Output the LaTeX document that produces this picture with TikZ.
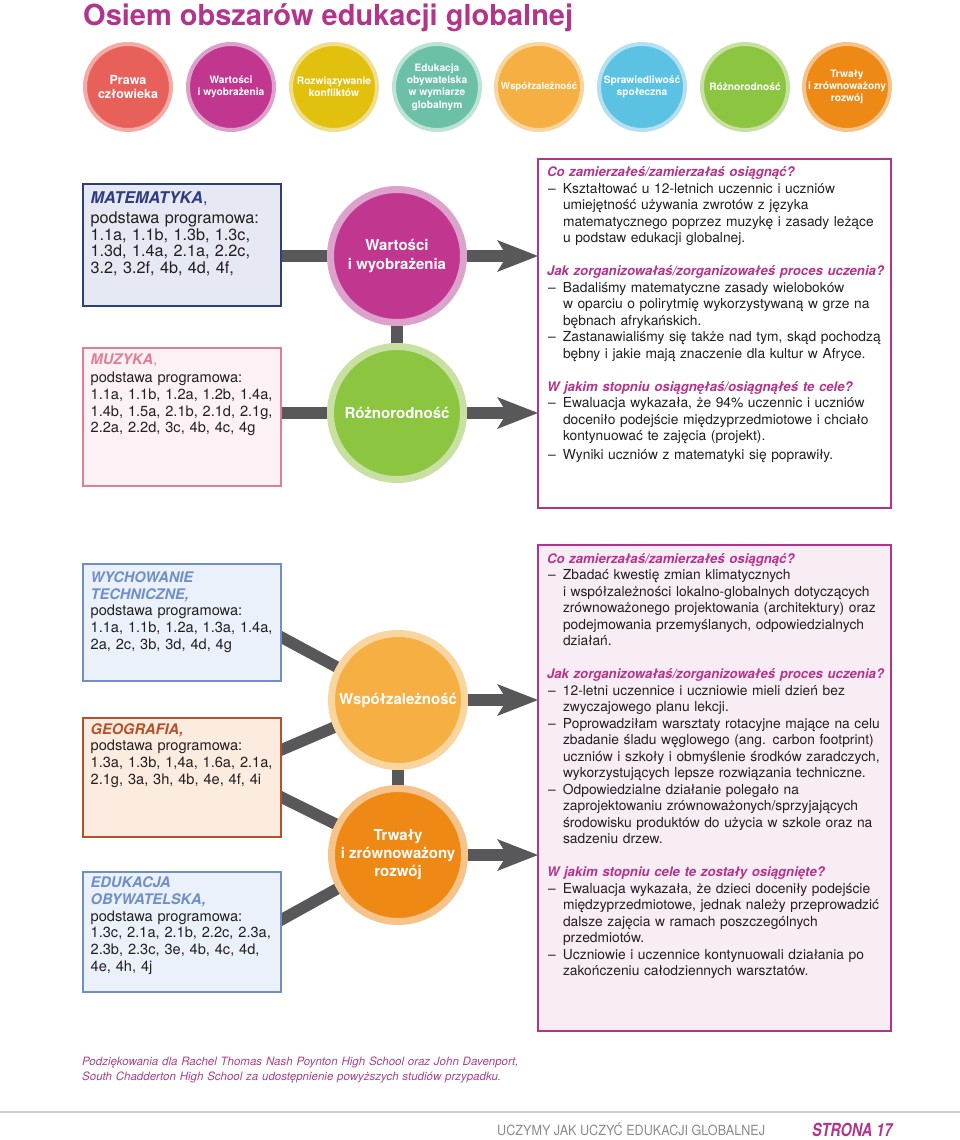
\documentclass[tikz,border=0pt]{standalone}
\usepackage{fontspec}
\setmainfont{TeX Gyre Heros}
\usetikzlibrary{arrows.meta,calc}
\pgfdeclarelayer{bg}
\pgfsetlayers{bg,main}
\definecolor{mag}{HTML}{B3358B}
\definecolor{txt}{HTML}{231F20}
\definecolor{conn}{HTML}{58585A}
\definecolor{cA}{HTML}{E8605A}\definecolor{cAr}{HTML}{F3ABA5}
\definecolor{cB}{HTML}{C1378F}\definecolor{cBr}{HTML}{DDA2CC}
\definecolor{cC}{HTML}{E2C10E}\definecolor{cCr}{HTML}{EFDF8C}
\definecolor{cD}{HTML}{6BC0A7}\definecolor{cDr}{HTML}{BDE3D6}
\definecolor{cE}{HTML}{F5AF43}\definecolor{cEr}{HTML}{F9D5A0}
\definecolor{cF}{HTML}{5CC2E4}\definecolor{cFr}{HTML}{B4E0F1}
\definecolor{cG}{HTML}{8CC540}\definecolor{cGr}{HTML}{C8E0A2}
\definecolor{cH}{HTML}{EE8915}\definecolor{cHr}{HTML}{F6C48A}
\definecolor{matb}{HTML}{2E3D7C}\definecolor{matf}{HTML}{E6E8F4}
\definecolor{muzb}{HTML}{E27D95}\definecolor{muzf}{HTML}{FCF1F4}
\definecolor{wycb}{HTML}{6F8FC6}\definecolor{wycf}{HTML}{EBF1FA}
\definecolor{geob}{HTML}{B5512A}\definecolor{geof}{HTML}{FCEBDF}
\definecolor{boxf}{HTML}{F9EDF5}
\definecolor{footc}{HTML}{A8408A}
\definecolor{grayt}{HTML}{8A8A8A}
\newcommand\itm{\par\noindent\hangindent=16pt\hangafter=1\makebox[16pt][l]{\hspace{1pt}–}}
\newcommand\hd[1]{{\color{mag}\fontsize{13.2}{16.5}\selectfont\bfseries\itshape #1}}
\begin{document}
\begin{tikzpicture}[x=1pt,y=-1pt,
  topc/.style={circle, minimum size=86pt, inner sep=0pt, outer sep=0pt, line width=4pt, text=white, font=\fontsize{10.2}{12.3}\selectfont\bfseries, align=center},
  bigc/.style={circle, minimum size=133pt, inner sep=0pt, outer sep=0pt, line width=7pt, text=white, font=\fontsize{15}{18}\selectfont\bfseries, align=center},
  bx/.style={rectangle, anchor=north west, inner sep=0pt, outer sep=0pt, line width=1.5pt},
  ltxt/.style={anchor=base west, inner sep=0pt, outer sep=0pt, text width=190pt, text=txt, font=\fontsize{14.6}{16.7}\selectfont},
  rtxt/.style={anchor=base west, inner sep=0pt, outer sep=0pt, text width=360pt, text=txt, font=\fontsize{13.8}{16.5}\selectfont},
  cn/.style={draw=conn, line width=12pt},
  arr/.style={draw=conn, line width=12pt, -{Stealth[length=41pt,width=32pt,inset=10pt,line width=0pt]}}
]
\useasboundingbox (0,0) rectangle (960,1140);

% title
\node[anchor=base west, inner sep=0pt, text=mag, font=\fontsize{29}{29}\selectfont\bfseries] (title) at (83,25.5) {Osiem obszarów edukacji globalnej};

% top circles
\node[topc, fill=cA, draw=cAr, font=\fontsize{12.5}{14}\selectfont\bfseries] (t1) at (128,87) {Prawa\\człowieka};
\node[topc, fill=cB, draw=cBr] (t2) at (231,87) {Wartości\\i wyobrażenia};
\node[topc, fill=cC, draw=cCr] (t3) at (334,87) {Rozwiązywanie\\konfliktów};
\node[topc, fill=cD, draw=cDr] (t4) at (437,87) {Edukacja\\obywatelska\\w wymiarze\\globalnym};
\node[topc, fill=cE, draw=cEr, font=\fontsize{9.7}{12.3}\selectfont\bfseries] (t5) at (539,87) {Współzależność};
\node[topc, fill=cF, draw=cFr] (t6) at (642,87) {Sprawiedliwość\\społeczna};
\node[topc, fill=cG, draw=cGr] (t7) at (745,87) {Różnorodność};
\node[topc, fill=cH, draw=cHr] (t8) at (847,87) {Trwały\\i zrównoważony\\rozwój};

% ---------- section 1 ----------
\node[bx, draw=matb, fill=matf, minimum width=198pt, minimum height=122pt] (mat) at (83,184) {};
\node[bx, draw=muzb, fill=muzf, minimum width=198pt, minimum height=138pt] (muz) at (83,348) {};
\node[bx, draw=mag, fill=white, minimum width=353pt, minimum height=349pt] (boxa) at (538,159) {};

\node[bigc, fill=cB, draw=cBr] (wart) at (397,256) {Wartości\\i wyobrażenia};
\node[bigc, fill=cG, draw=cGr] (roz) at (397,413) {Różnorodność};

\node[ltxt, font=\fontsize{16.2}{16.6}\selectfont] (matt) at (90.7,203) {{\color{matb}{\bfseries\itshape MATEMATYKA},}\\[3.9pt]
podstawa programowa:\\
1.1a, 1.1b, 1.3b, 1.3c,\\
1.3d, 1.4a, 2.1a, 2.2c,\\
3.2, 3.2f, 4b, 4d, 4f,};

\node[ltxt] (muzt) at (90.7,364) {{\color{muzb}{\bfseries\itshape MUZYKA},}\\[2pt]
podstawa programowa:\\
1.1a, 1.1b, 1.2a, 1.2b, 1.4a,\\
1.4b, 1.5a, 2.1b, 2.1d, 2.1g,\\
2.2a, 2.2d, 3c, 4b, 4c, 4g};

\node[rtxt] (ta) at (547,176.7) {\hd{Co zamierzałeś/zamierzałaś osiągnąć?}
\itm Kształtować u 12-letnich uczennic i uczniów\newline umiejętność używania zwrotów z języka\newline matematycznego poprzez muzykę i zasady leżące\newline u podstaw edukacji globalnej.
\par\vspace{16.5pt}\noindent\hd{Jak zorganizowałaś/zorganizowałeś proces uczenia?}
\itm Badaliśmy matematyczne zasady wieloboków\newline w oparciu o polirytmię wykorzystywaną w grze na\newline bębnach afrykańskich.
\itm Zastanawialiśmy się także nad tym, skąd pochodzą\newline bębny i jakie mają znaczenie dla kultur w Afryce.
\par\vspace{16.5pt}\noindent\hd{W jakim stopniu osiągnęłaś/osiągnąłeś te cele?}
\itm Ewaluacja wykazała, że 94\% uczennic i uczniów\newline doceniło podejście międzyprzedmiotowe i chciało\newline kontynuować te zajęcia (projekt).
\par\vspace{2.5pt}\itm Wyniki uczniów z matematyki się poprawiły.\par};

% ---------- section 2 ----------
\node[bx, draw=wycb, fill=wycf, minimum width=198pt, minimum height=117pt] (wyc) at (83,564) {};
\node[bx, draw=geob, fill=geof, minimum width=198pt, minimum height=119pt] (geo) at (83,718) {};
\node[bx, draw=wycb, fill=wycf, minimum width=198pt, minimum height=120pt] (edu) at (83,872) {};
\node[bx, draw=mag, fill=boxf, minimum width=353pt, minimum height=486pt] (boxb) at (538,545) {};

\node[bigc, fill=cE, draw=cEr] (wsp) at (398,700) {Współzależność};
\node[bigc, fill=cH, draw=cHr] (trw) at (398,855) {Trwały\\i zrównoważony\\rozwój};

\node[ltxt] (wyct) at (90.7,582.3) {{\color{wycb}\bfseries\itshape WYCHOWANIE\\TECHNICZNE,}\\
podstawa programowa:\\
1.1a, 1.1b, 1.2a, 1.3a, 1.4a,\\
2a, 2c, 3b, 3d, 4d, 4g};

\node[ltxt] (geot) at (90.7,734) {{\color{geob}\bfseries\itshape GEOGRAFIA,}\\
podstawa programowa:\\
1.3a, 1.3b, 1,4a, 1.6a, 2.1a,\\
2.1g, 3a, 3h, 4b, 4e, 4f, 4i};

\node[ltxt] (edut) at (90.7,887.7) {{\color{wycb}\bfseries\itshape EDUKACJA\\OBYWATELSKA,}\\
podstawa programowa:\\
1.3c, 2.1a, 2.1b, 2.2c, 2.3a,\\
2.3b, 2.3c, 3e, 4b, 4c, 4d,\\
4e, 4h, 4j};

\node[rtxt] (tb) at (547,563.3) {\hd{Co zamierzałaś/zamierzałeś osiągnąć?}
\itm Zbadać kwestię zmian klimatycznych\newline i współzależności lokalno-globalnych dotyczących\newline zrównoważonego projektowania (architektury) oraz\newline podejmowania przemyślanych, odpowiedzialnych\newline działań.
\par\vspace{16.5pt}\noindent\hd{Jak zorganizowałaś/zorganizowałeś proces uczenia?}
\itm 12-letni uczennice i uczniowie mieli dzień bez\newline zwyczajowego planu lekcji.
\itm Poprowadziłam warsztaty rotacyjne mające na celu\newline zbadanie śladu węglowego (ang. carbon footprint)\newline uczniów i szkoły i obmyślenie środków zaradczych,\newline wykorzystujących lepsze rozwiązania techniczne.
\itm Odpowiedzialne działanie polegało na\newline zaprojektowaniu zrównoważonych/sprzyjających\newline środowisku produktów do użycia w szkole oraz na\newline sadzeniu drzew.
\par\vspace{16.5pt}\noindent\hd{W jakim stopniu cele te zostały osiągnięte?}
\itm Ewaluacja wykazała, że dzieci doceniły podejście\newline międzyprzedmiotowe, jednak należy przeprowadzić\newline dalsze zajęcia w ramach poszczególnych\newline przedmiotów.
\itm Uczniowie i uczennice kontynuowali działania po\newline zakończeniu całodziennych warsztatów.\par};

% connector anchor points on box edges
\coordinate (p1) at ($(wyc.east)+(0,14.5)$);
\coordinate (p2) at ($(geo.east)+(0,-27.5)$);
\coordinate (p3) at ($(geo.east)+(0,19.5)$);
\coordinate (p4) at ($(edu.east)+(0,-12)$);

% connectors (behind)
\begin{pgfonlayer}{bg}
\draw[cn] (mat.east |- wart) -- (wart.center);
\draw[cn] (muz.east |- roz) -- (roz.center);
\draw[cn] (wart.center) -- (roz.center);
\draw[arr] (wart.center) -- (wart -| boxa.west);
\draw[arr] (roz.center) -- (roz -| boxa.west);
\draw[cn, line width=11.5pt, shorten <=-8pt] (p1) -- (wsp.center);
\draw[cn, line width=11.5pt, shorten <=-8pt] (p2) -- (wsp.center);
\draw[cn, line width=11.5pt, shorten <=-8pt] (p3) -- (trw.center);
\draw[cn, line width=11.5pt, shorten <=-8pt] (p4) -- (trw.center);
\draw[cn] (wsp.center) -- (trw.center);
\draw[arr] (wsp.center) -- (wsp -| boxb.west);
\draw[arr] (trw.center) -- (trw -| boxb.west);
\end{pgfonlayer}

% footer
\node[anchor=base west, inner sep=0pt, text width=520pt, text=footc, font=\fontsize{11.5}{14.5}\selectfont\itshape] (thanks) at (82,1065.5) {Podziękowania dla Rachel Thomas Nash Poynton High School oraz John Davenport,\\South Chadderton High School za udostępnienie powyższych studiów przypadku.};
\coordinate (rl) at (0,1112);
\coordinate (rr) at (960,1112);
\draw[draw=black!20, line width=2pt] (rl) -- (rr);
\node[anchor=base west, inner sep=0pt, text=grayt, font=\fontsize{14}{14}\selectfont] (run) at (497,1135) {\scalebox{0.9}[1]{UCZYMY JAK UCZYĆ EDUKACJI GLOBALNEJ}};
\node[anchor=base west, inner sep=0pt, text=mag, font=\fontsize{18}{18}\selectfont\bfseries\itshape] (page) at (812,1136.7) {\scalebox{0.8}[1]{STRONA 17}};
\end{tikzpicture}
\end{document}
